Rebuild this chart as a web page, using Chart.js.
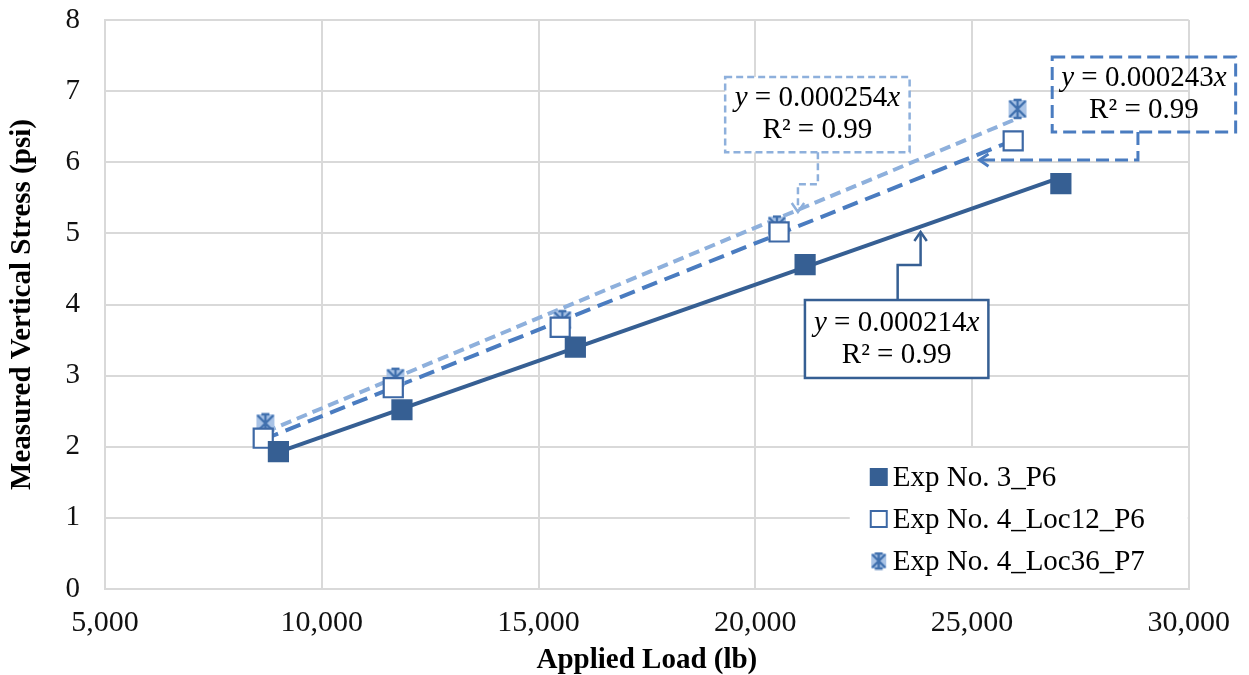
<!DOCTYPE html>
<html>
<head>
<meta charset="utf-8">
<script src="https://cdn.jsdelivr.net/npm/chart.js@4.4.1/dist/chart.umd.min.js"></script>
<style>
    html, body { margin: 0; padding: 0; background: #fff; }
    #wrap { width: 1249px; height: 675px; }
</style>
</head>
<body>
<div id="wrap"><canvas id="chart" width="1249" height="675"></canvas></div>
<script>
// Data
const seriesNames = ['Exp No. 3_P6', 'Exp No. 4_Loc12_P6', 'Exp No. 4_Loc36_P7'];

const loadP6 = [9000, 11850, 15850, 21150, 27050];
const stressP6 = [1.93, 2.52, 3.40, 4.56, 5.70];

const loadLoc12 = [8650, 11650, 15500, 20550, 25950];
const stressLoc12 = [2.12, 2.83, 3.68, 5.02, 6.30];

const loadLoc36 = [8700, 11700, 15550, 20500, 26050];
const stressLoc36 = [2.33, 2.97, 3.78, 5.11, 6.75];

// Trendlines (linear through origin) as printed on the chart
const slopes = [0.000214, 0.000243, 0.000254];
const slopeText = ['0.000214', '0.000243', '0.000254'];
const r2Text = ['0.99', '0.99', '0.99'];

const xTicks = [5000, 10000, 15000, 20000, 25000, 30000];
const yTicks = [0, 1, 2, 3, 4, 5, 6, 7, 8];

const colDark = '#365F93';
const colMid = '#4A7CC0';
const colLight = '#8EB0DC';
const serif = '"Liberation Serif", "Times New Roman", serif';

const toPoints = (xs, ys) => xs.map((x, i) => ({ x: x, y: ys[i] }));

function trend(xs, slope) {
    const lo = Math.min(...xs), hi = Math.max(...xs);
    return [{ x: lo, y: slope * lo }, { x: hi, y: slope * hi }];
}

// asterisk marker (light square behind, darker star)
function starMarker(size) {
    const c = document.createElement('canvas');
    c.width = size; c.height = size;
    const g = c.getContext('2d');
    const m = size / 2, r = size / 2 - 2;
    g.fillStyle = '#A9C3E6';
    g.fillRect(m - r, m - r, 2 * r, 2 * r);
    g.strokeStyle = '#4070AE';
    g.lineWidth = 2.4;
    g.beginPath();
    g.moveTo(m - r + 1, m - r + 1); g.lineTo(m + r - 1, m + r - 1);
    g.moveTo(m + r - 1, m - r + 1); g.lineTo(m - r + 1, m + r - 1);
    g.moveTo(m, m - r); g.lineTo(m, m + r);
    g.moveTo(m - 4, m - r); g.lineTo(m + 4, m - r);
    g.moveTo(m - 4, m + r); g.lineTo(m + 4, m + r);
    g.stroke();
    return c;
}
const star = starMarker(22);
const starSmall = starMarker(19);

// equation callouts, anchored in data units
const callouts = [
    {
        idx: 2, color: colLight, dash: [7, 4], width: 2.5, fill: true,
        box: [19306, 23561, 6.14, 7.20],
        path: [[21445, 6.14], [21445, 5.69], [20985, 5.69], [20985, 5.30]]
    },
    {
        idx: 1, color: colMid, dash: [13, 6], width: 3, fill: false,
        box: [26850, 31082, 6.425, 7.48],
        path: [[28828, 6.425], [28828, 6.03], [25171, 6.03]]
    },
    {
        idx: 0, color: colDark, dash: [], width: 2.5, fill: true,
        box: [21146, 25378, 2.967, 4.063],
        path: [[23285, 4.063], [23285, 4.555], [23814, 4.555], [23814, 5.02]]
    }
];

function drawEquation(ctx, i, cx, cy) {
    const parts = [
        ['y', 'italic 29px ' + serif],
        [' = ' + slopeText[i], '29px ' + serif],
        ['x', 'italic 29px ' + serif]
    ];
    let total = 0;
    parts.forEach(p => { ctx.font = p[1]; total += ctx.measureText(p[0]).width; });
    let x = cx - total / 2;
    ctx.textAlign = 'left';
    ctx.textBaseline = 'middle';
    ctx.fillStyle = '#000';
    parts.forEach(p => {
        ctx.font = p[1];
        ctx.fillText(p[0], x, cy);
        x += ctx.measureText(p[0]).width;
    });
    ctx.font = '29px ' + serif;
    ctx.textAlign = 'center';
    ctx.fillText('R\u00B2 = ' + r2Text[i], cx, cy + 32);
}

const calloutPlugin = {
    id: 'callouts',
    afterDatasetsDraw (chart) {
        const ctx = chart.ctx;
        const xs = chart.scales.x, ys = chart.scales.y;
        ctx.save();
        callouts.forEach(c => {
            const x1 = xs.getPixelForValue(c.box[0]);
            const x2 = xs.getPixelForValue(c.box[1]);
            const y1 = ys.getPixelForValue(c.box[3]);
            const y2 = ys.getPixelForValue(c.box[2]);
            if (c.fill) {
                ctx.fillStyle = '#fff';
                ctx.fillRect(x1, y1, x2 - x1, y2 - y1);
            }
            ctx.strokeStyle = c.color;
            ctx.lineWidth = c.width;
            ctx.setLineDash(c.dash);
            ctx.strokeRect(x1, y1, x2 - x1, y2 - y1);

            const pts = c.path.map(p => [xs.getPixelForValue(p[0]), ys.getPixelForValue(p[1])]);
            ctx.beginPath();
            pts.forEach((p, k) => k ? ctx.lineTo(p[0], p[1]) : ctx.moveTo(p[0], p[1]));
            ctx.stroke();

            // open arrow head
            const a = pts[pts.length - 1], b = pts[pts.length - 2];
            const ang = Math.atan2(a[1] - b[1], a[0] - b[0]);
            ctx.setLineDash([]);
            ctx.beginPath();
            ctx.moveTo(a[0] - 11 * Math.cos(ang - 0.6), a[1] - 11 * Math.sin(ang - 0.6));
            ctx.lineTo(a[0], a[1]);
            ctx.lineTo(a[0] - 11 * Math.cos(ang + 0.6), a[1] - 11 * Math.sin(ang + 0.6));
            ctx.stroke();

            drawEquation(ctx, c.idx, (x1 + x2) / 2, (y1 + y2) / 2 - 16);
        });

        // legend in the lower right of the plot
        const area = chart.chartArea;
        const lx = area.right - 339, ly = area.bottom - 141;
        ctx.setLineDash([]);
        ctx.fillStyle = '#fff';
        ctx.fillRect(lx, ly, 338, 140);
        const rows = [ly + 29, ly + 71, ly + 113];
        const mx = lx + 29;
        ctx.fillStyle = colDark;
        ctx.fillRect(mx - 9, rows[0] - 9, 18, 18);
        ctx.strokeStyle = '#3D68A5';
        ctx.lineWidth = 2;
        ctx.strokeRect(mx - 8, rows[1] - 8, 16, 16);
        ctx.drawImage(starSmall, mx - 9.5, rows[2] - 9.5);
        ctx.fillStyle = '#000';
        ctx.font = '29px ' + serif;
        ctx.textAlign = 'left';
        ctx.textBaseline = 'middle';
        seriesNames.forEach((n, i) => ctx.fillText(n, lx + 43, rows[i] + 1));
        ctx.restore();
    }
};

new Chart(document.getElementById('chart'), {
    type: 'scatter',
    data: {
        datasets: [
            {
                label: seriesNames[0], data: toPoints(loadP6, stressP6),
                pointStyle: 'rect', pointRadius: 15, backgroundColor: colDark,
                borderColor: colDark, borderWidth: 0, order: 1
            },
            {
                label: seriesNames[1], data: toPoints(loadLoc12, stressLoc12),
                pointStyle: 'rect', pointRadius: 13.5, backgroundColor: '#fff',
                borderColor: '#3D68A5', borderWidth: 2.2, order: 1
            },
            {
                label: seriesNames[2], data: toPoints(loadLoc36, stressLoc36),
                pointStyle: star, pointRadius: 11, order: 1
            },
            {
                type: 'line', data: trend(loadP6, slopes[0]), borderColor: colDark,
                borderWidth: 4, pointRadius: 0, order: 2
            },
            {
                type: 'line', data: trend(loadLoc12, slopes[1]), borderColor: colMid,
                borderWidth: 4, borderDash: [16, 8], pointRadius: 0, order: 2
            },
            {
                type: 'line', data: trend(loadLoc36, slopes[2]), borderColor: colLight,
                borderWidth: 4, borderDash: [11, 6], pointRadius: 0, order: 2
            }
        ]
    },
    options: {
        responsive: false,
        animation: false,
        layout: { autoPadding: false, padding: { top: 20, right: 57, left: 8, bottom: 0 } },
        plugins: {
            legend: { display: false },
            tooltip: { enabled: false }
        },
        scales: {
            x: {
                type: 'linear', min: 5000, max: 30000,
                afterBuildTicks: s => { s.ticks = xTicks.map(v => ({ value: v })); },
                afterFit: s => { s.height = 86; s.paddingTop = 0; },
                grid: { color: '#D9D9D9', lineWidth: 2, drawTicks: false },
                border: { color: '#D9D9D9', width: 2 },
                ticks: {
                    padding: 19, color: '#111',
                    font: { family: serif, size: 30, lineHeight: 1 },
                    callback: v => v.toLocaleString('en-US')
                },
                title: {
                    display: true, text: 'Applied Load (lb)', color: '#000',
                    padding: 0,
                    font: { family: serif, size: 29, weight: 'bold', lineHeight: 1 }
                }
            },
            y: {
                type: 'linear', min: 0, max: 8,
                afterBuildTicks: s => { s.ticks = yTicks.map(v => ({ value: v })); },
                afterFit: s => { s.width = 97; s.paddingTop = 0; s.paddingBottom = 0; },
                grid: { color: '#D9D9D9', lineWidth: 2, drawTicks: false },
                border: { color: '#D9D9D9', width: 2 },
                ticks: {
                    padding: 25, color: '#111',
                    font: { family: serif, size: 29, lineHeight: 1 }
                },
                title: {
                    display: true, text: 'Measured Vertical Stress (psi)', color: '#000',
                    padding: 0,
                    font: { family: serif, size: 29, weight: 'bold', lineHeight: 1 }
                }
            }
        }
    },
    plugins: [calloutPlugin]
});
</script>
</body>
</html>
